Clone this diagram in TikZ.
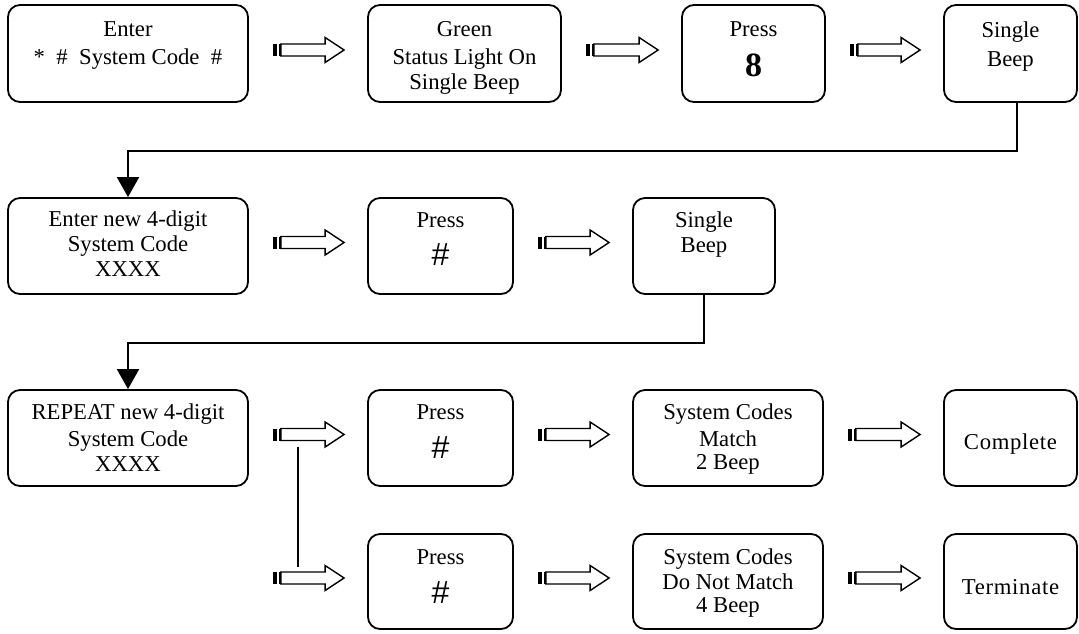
\documentclass[tikz,border=0pt]{standalone}
\usepackage{fontspec}
\setmainfont{Liberation Serif}
\newfontfamily\hashfont{Liberation Sans}
\newfontfamily\spacedfont[LetterSpace=3]{Liberation Serif}
\usetikzlibrary{calc,arrows.meta}
\newcommand\blockarr[3]{%
  \coordinate (#3t) at ($(#1.east |- #2.center)+(24,-3.5)$);
  \coordinate (#3h) at ($(#2.west)+(-23,-3.5)$);
  \draw[blockarrow] ($(#3t)+(8,-6)$) -- ($(#3h)+(-19,-6)$) -- ($(#3h)+(-19,-12.5)$) -- (#3h)
     -- ($(#3h)+(-19,12.5)$) -- ($(#3h)+(-19,6)$) -- ($(#3t)+(8,6)$) -- cycle;
  \fill ($(#3t)+(0,-6)$) rectangle ($(#3t)+(4,6)$);
  \fill ($(#3t)+(6,-6)$) rectangle ($(#3t)+(8,6)$);
}
\begin{document}
\begin{tikzpicture}[x=1pt,y=-1pt,
  box/.style={draw, line width=1.8pt, rounded corners=12pt, inner sep=0pt, minimum height=96pt},
  txt/.style={inner sep=0pt, anchor=base, font=\fontsize{22.7}{26}\selectfont},
  hash/.style={inner sep=0pt, anchor=base, font=\hashfont\fontsize{32}{34}\selectfont},
  big/.style={inner sep=0pt, anchor=base, font=\bfseries\fontsize{34}{36}\selectfont},
  spaced/.style={inner sep=0pt, anchor=base, font=\spacedfont\fontsize{22.7}{26}\selectfont},
  blockarrow/.style={draw, line width=1.4pt, fill=white, line join=miter},
  conn/.style={draw, line width=1.8pt, -{Triangle[width=22pt,length=20pt]}},
  link/.style={draw, line width=1.5pt}]
\useasboundingbox (0,0) rectangle (1079,634);

% row 1
\node[box, minimum width=240pt, minimum height=97pt] (b1) at (128,53.5) {};
\node[box, minimum width=193pt, minimum height=97pt] (b2) at (464.5,53.5) {};
\node[box, minimum width=143pt, minimum height=97pt] (b3) at (753.5,53.5) {};
\node[box, minimum width=133pt, minimum height=97pt] (b4) at (1010.5,53.5) {};
% row 2
\node[box, minimum width=240pt] (c1) at (128,246) {};
\node[box, minimum width=145pt] (c2) at (440.5,246) {};
\node[box, minimum width=142pt] (c3) at (704,246) {};
% row 3
\node[box, minimum width=240pt] (d1) at (128,438) {};
\node[box, minimum width=145pt] (d2) at (440.5,438) {};
\node[box, minimum width=190pt] (d3) at (728,438) {};
\node[box, minimum width=133pt] (d4) at (1010.5,438) {};
% row 4
\node[box, minimum width=145pt, minimum height=95pt] (e2) at (440.5,581.5) {};
\node[box, minimum width=190pt, minimum height=95pt] (e3) at (728,581.5) {};
\node[box, minimum width=133pt, minimum height=95pt] (e4) at (1010.5,581.5) {};

% texts
\node[txt] (b1a) at ($(b1.north)+(0,32)$) {Enter};
\node[txt] (b1b) at ($(b1.north)+(0,60)$) {*\ \ \#\ \ System Code\ \ \#};
\node[txt] (b2a) at ($(b2.north)+(0,32)$) {Green};
\node[txt] (b2b) at ($(b2.north)+(0,60)$) {Status Light On};
\node[txt] (b2c) at ($(b2.north)+(0,85)$) {Single Beep};
\node[txt] (b3a) at ($(b3.north)+(0,32)$) {Press};
\node[big] (b3b) at ($(b3.north)+(0,72)$) {8};
\node[txt] (b4a) at ($(b4.north)+(0,33)$) {Single};
\node[txt] (b4b) at ($(b4.north)+(0,62)$) {Beep};

\node[txt] (c1a) at ($(c1.north)+(0,29)$) {Enter new 4-digit};
\node[txt] (c1b) at ($(c1.north)+(0,54)$) {System Code};
\node[txt] (c1c) at ($(c1.north)+(0,79)$) {XXXX};
\node[txt] (c2a) at ($(c2.north)+(0,30)$) {Press};
\node[hash] (c2b) at ($(c2.north)+(0,68)$) {\#};
\node[txt] (c3a) at ($(c3.north)+(0,30)$) {Single};
\node[txt] (c3b) at ($(c3.north)+(0,55)$) {Beep};

\node[txt] (d1a) at ($(d1.north)+(0,30)$) {REPEAT new 4-digit};
\node[txt] (d1b) at ($(d1.north)+(0,57)$) {System Code};
\node[txt] (d1c) at ($(d1.north)+(0,82)$) {XXXX};
\node[txt] (d2a) at ($(d2.north)+(0,30)$) {Press};
\node[hash] (d2b) at ($(d2.north)+(0,69)$) {\#};
\node[txt] (d3a) at ($(d3.north)+(0,30)$) {System Codes};
\node[txt] (d3b) at ($(d3.north)+(0,57)$) {Match};
\node[txt] (d3c) at ($(d3.north)+(0,80)$) {2 Beep};
\node[spaced] (d4a) at ($(d4.north)+(0,60)$) {Complete};

\node[txt] (e2a) at ($(e2.north)+(0,31)$) {Press};
\node[hash] (e2b) at ($(e2.north)+(0,70)$) {\#};
\node[txt] (e3a) at ($(e3.north)+(0,31)$) {System Codes};
\node[txt] (e3b) at ($(e3.north)+(0,56)$) {Do Not Match};
\node[txt] (e3c) at ($(e3.north)+(0,79)$) {4 Beep};
\node[spaced] (e4a) at ($(e4.north)+(0,61)$) {Terminate};

% block arrows
\blockarr{b1}{b2}{a11}
\blockarr{b2}{b3}{a12}
\blockarr{b3}{b4}{a13}
\blockarr{c1}{c2}{a21}
\blockarr{c2}{c3}{a22}
\blockarr{d1}{d2}{a31}
\blockarr{d2}{d3}{a32}
\blockarr{d3}{d4}{a33}
\blockarr{d1}{e2}{a41}
\blockarr{e2}{e3}{a42}
\blockarr{e3}{e4}{a43}

% connectors
\coordinate (j1) at ($(b4.south)+(6.5,48)$);
\draw[conn] ($(b4.south)+(6.5,0)$) -- (j1) -| (c1.north);
\coordinate (j2) at ($(c3.south)+(0,48)$);
\draw[conn] (c3.south) -- (j2) -| (d1.north);
\draw[link] ($(a31t)+(25,12)$) -- ($(a41t)+(25,-11)$);
\end{tikzpicture}
\end{document}
